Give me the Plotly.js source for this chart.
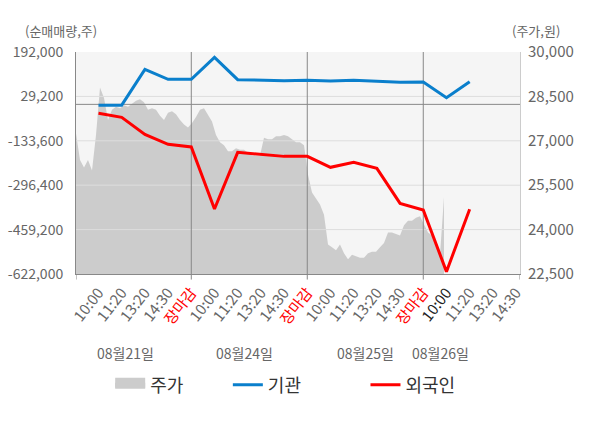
<!DOCTYPE html>
<html>
<head>
<meta charset="utf-8">
<script src="https://cdn.plot.ly/plotly-3.0.1.min.js"></script>
<style>
  html, body { margin: 0; padding: 0; background: #fff; }
  #chart { width: 600px; height: 428px; }
</style>
</head>
<body>
<div id="chart"></div>
<script>
(function () {
  'use strict';

  // x categories (intraday checkpoints over four trading days)
  var timeLabels = ['10:00', '11:20', '13:20', '14:30', '장마감',
                    '10:00', '11:20', '13:20', '14:30', '장마감',
                    '10:00', '11:20', '13:20', '14:30', '장마감',
                    '10:00', '11:20', '13:20', '14:30'];
  var dateLabels = ['08월21일', '08월24일', '08월25일', '08월26일'];
  var datePos = [1.15, 6.3, 11.5, 14.75];

  // net buying volume (shares)
  var institution = [-3000, -3000, 128500, 91900, 91900, 172500, 90500, 88000, 87000,
                     88000, 85700, 88000, 84500, 81000, 82000, 24600, 83300];
  var foreign = [-32900, -47500, -109900, -146500, -156300, -383700, -175900, -183300, -190700,
                 -190700, -230900, -212600, -234600, -362900, -387300, -613400, -384900];

  // share price (won), sampled along the session
  var price = [27250, 26350, 26100, 26350, 26000, 27200, 28800, 28450, 27700, 28050,
               28150, 28100, 28200, 28150, 28250, 28350, 28400, 28300, 28050, 28100,
               28050, 27850, 27700, 27950, 28000, 27900, 27700, 27550, 27450, 27600,
               27800, 28050, 28100, 27850, 27650, 27200, 26950, 26850, 26650, 26650,
               26750, 26700, 26700, 26600, 26500, 26500, 26500, 27100, 27050, 27050,
               27150, 27150, 27200, 27150, 27050, 26950, 26950, 26850, 25850, 25250,
               25050, 24850, 24500, 23500, 23400, 23300, 23500, 23200, 23000, 23150,
               23100, 23050, 23050, 23200, 23250, 23250, 23400, 23550, 23900, 23900,
               23850, 23800, 24150, 24300, 24300, 24400, 24450, 24150, 23900, 23800,
               23500, 23150, 25100];

  var leftTicks = [-622000, -459200, -296400, -133600, 29200, 192000];
  var rightTicks = [22500, 24000, 25500, 27000, 28500, 30000];

  var catRange = [-0.97, 18.17];
  var priceRange = [0, 111];
  var font = 'Noto Sans CJK KR, Noto Sans, sans-serif';
  var grey = '#666';

  function idx(arr) { return arr.map(function (_, i) { return i; }); }
  function fmt(v) { return v.toLocaleString('en-US'); }

  var closeIdx = [];
  timeLabels.forEach(function (t, i) { if (t === '장마감') closeIdx.push(i); });

  // grid drawn as traces so it sits above the price area but under the flow lines
  var gx = [], gy = [];
  leftTicks.slice(1, -1).forEach(function (v) {
    gx.push(catRange[0], catRange[1], null); gy.push(v, v, null);
  });
  var sx = [], sy = [];
  closeIdx.forEach(function (i) {
    sx.push(i, i, null); sy.push(leftTicks[0], leftTicks[leftTicks.length - 1], null);
  });

  var data = [
    {
      x: idx(price), y: price, type: 'scatter', mode: 'lines',
      fill: 'tozeroy', fillcolor: '#cccccc', line: { width: 0, color: '#cccccc' },
      xaxis: 'x', yaxis: 'y', showlegend: false, hoverinfo: 'skip'
    },
    {
      x: [null], y: [null], type: 'scatter', mode: 'lines', name: '주가',
      fill: 'tozeroy', fillcolor: '#cccccc',
      line: { width: 10, color: '#cccccc' }, xaxis: 'x2', yaxis: 'y2', legend: 'legend'
    },
    {
      x: gx, y: gy, type: 'scatter', mode: 'lines', line: { width: 1, color: '#dddddd' },
      xaxis: 'x2', yaxis: 'y2', showlegend: false, hoverinfo: 'skip'
    },
    {
      x: catRange, y: [0, 0], type: 'scatter', mode: 'lines', line: { width: 1, color: '#888888' },
      xaxis: 'x2', yaxis: 'y2', showlegend: false, hoverinfo: 'skip'
    },
    {
      x: sx, y: sy, type: 'scatter', mode: 'lines', line: { width: 1, color: '#888888' },
      xaxis: 'x2', yaxis: 'y2', showlegend: false, hoverinfo: 'skip'
    },
    {
      x: idx(institution), y: institution, type: 'scatter', mode: 'lines', name: '기관',
      line: { width: 3, color: '#0a7fcc' }, xaxis: 'x2', yaxis: 'y2', legend: 'legend2'
    },
    {
      x: idx(foreign), y: foreign, type: 'scatter', mode: 'lines', name: '외국인',
      line: { width: 3, color: '#ff0000' }, xaxis: 'x2', yaxis: 'y2', legend: 'legend3'
    }
  ];

  var tickText = timeLabels.map(function (t, i) {
    if (t === '장마감') return '<span style="color:#ff0000">' + t + '</span>';
    if (i === 15) return '<span style="color:#222">' + t + '</span>';
    return t;
  });

  var shapes = [catRange[0]].concat(closeIdx, [catRange[1]]).map(function (v) {
    return { type: 'line', xref: 'x2', yref: 'paper', x0: v, x1: v, y0: 0, y1: -0.025,
             line: { color: '#888888', width: 1 } };
  });

  var annotations = dateLabels.map(function (d, i) {
    return { text: d, xref: 'x2', yref: 'paper', x: datePos[i], y: -0.356, yanchor: 'middle',
             showarrow: false, font: { size: 14, color: grey, family: font } };
  });
  annotations.push(
    { text: '(순매매량,주)', xref: 'paper', yref: 'paper', x: -0.034, y: 1.095,
      xanchor: 'center', yanchor: 'middle', borderpad: 0,
      showarrow: false, font: { size: 13, color: grey, family: font } },
    { text: '(주가,원)', xref: 'paper', yref: 'paper', x: 1.035, y: 1.095,
      xanchor: 'center', yanchor: 'middle', borderpad: 0,
      showarrow: false, font: { size: 13, color: grey, family: font } }
  );

  function legendAt(x) {
    return {
      orientation: 'h', x: x, xanchor: 'left', y: -0.5, yanchor: 'middle',
      font: { size: 18, color: '#333', family: font }, bgcolor: 'rgba(0,0,0,0)'
    };
  }

  var layout = {
    width: 600, height: 428,
    margin: { l: 76, r: 80, t: 52, b: 154 },
    paper_bgcolor: '#ffffff', plot_bgcolor: '#f5f5f5',
    font: { family: font, color: grey, size: 14 },
    showlegend: true,
    legend: legendAt(0.077),
    legend2: legendAt(0.342),
    legend3: legendAt(0.652),
    xaxis: {
      range: priceRange, visible: false, fixedrange: true
    },
    yaxis: {
      range: [rightTicks[0], rightTicks[rightTicks.length - 1]], side: 'right',
      tickvals: rightTicks, ticktext: rightTicks.map(fmt), ticks: '',
      showgrid: false, zeroline: false, showline: true, linecolor: '#cccccc',
      ticklabelstandoff: 4, tickfont: { size: 15, color: grey }
    },
    xaxis2: {
      overlaying: 'x', anchor: 'y2', range: catRange,
      tickvals: idx(timeLabels), ticktext: tickText, tickangle: -52, ticks: '',
      showgrid: false, zeroline: false, showline: true, linecolor: '#888888',
      ticklabelstandoff: 3, tickfont: { size: 15, color: grey }
    },
    yaxis2: {
      overlaying: 'y', side: 'left', anchor: 'x2',
      range: [leftTicks[0], leftTicks[leftTicks.length - 1]],
      tickvals: leftTicks, ticktext: leftTicks.map(fmt), ticks: '',
      showgrid: false, zeroline: false, showline: true, linecolor: '#888888',
      ticklabelstandoff: 9, tickfont: { size: 14, color: grey }
    },
    shapes: shapes,
    annotations: annotations
  };

  Plotly.newPlot('chart', data, layout, { displayModeBar: false, staticPlot: true });
})();
</script>
</body>
</html>
